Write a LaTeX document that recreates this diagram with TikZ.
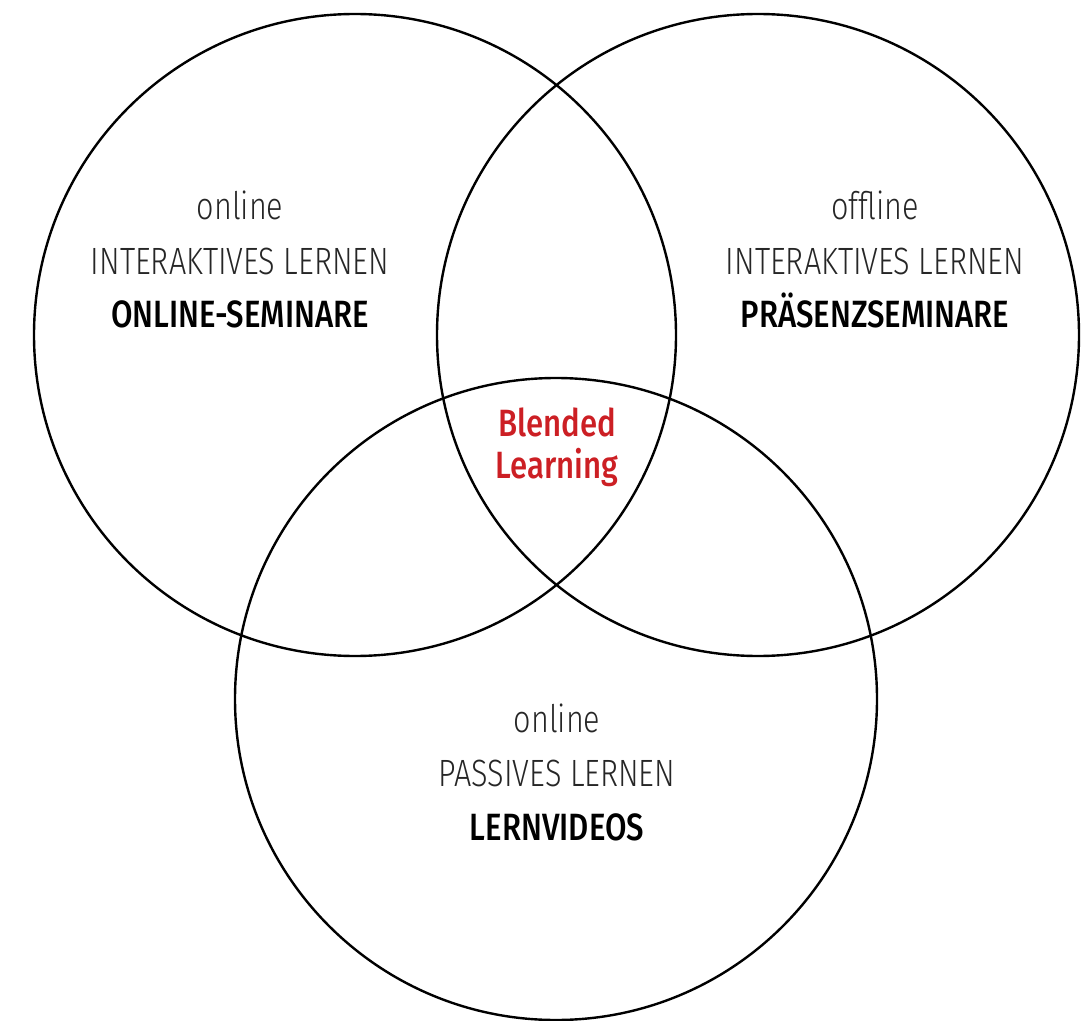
\documentclass[tikz,border=0pt]{standalone}
\usepackage{fontspec}
\setmainfont{Fira Sans}[UprightFont=* Light, BoldFont=* Medium, UprightFeatures={FakeStretch=0.805}, BoldFeatures={FakeStretch=0.82}]
\definecolor{bred}{HTML}{CC1F24}
\begin{document}
\begin{tikzpicture}[x=0.5pt,y=-0.5pt,
  venn/.style={draw=black, line width=1.2pt},
  lbl/.style={font=\fontsize{19}{22}\selectfont, text=black!85, inner sep=0pt, anchor=base},
  blbl/.style={font=\fontsize{19}{22}\selectfont\bfseries, text=black, inner sep=0pt, anchor=base},
  rlbl/.style={font=\fontsize{19}{22}\selectfont\bfseries, text=bred, inner sep=0pt, anchor=base}]
\useasboundingbox (0,0) rectangle (1081,1021);
\node[venn, circle, minimum size=642pt*0.5, inner sep=0pt] (L) at (355,335) {};
\node[venn, circle, minimum size=642pt*0.5, inner sep=0pt] (R) at (758,335) {};
\node[venn, circle, minimum size=642pt*0.5, inner sep=0pt] (B) at (556,699) {};
\node[lbl] (l1) at (240,220) {online};
\node[lbl] (l2) at (240,275) {INTERAKTIVES LERNEN};
\node[blbl] (l3) at (240,328) {ONLINE-SEMINARE};
\node[lbl] (r1) at (875,220) {offline};
\node[lbl] (r2) at (875,275) {INTERAKTIVES LERNEN};
\node[blbl] (r3) at (875,328) {PRÄSENZSEMINARE};
\node[lbl] (b1) at (557,732) {online};
\node[lbl] (b2) at (557,786) {PASSIVES LERNEN};
\node[blbl] (b3) at (557,840) {LERNVIDEOS};
\node[rlbl] (c1) at (557,437) {Blended};
\node[rlbl] (c2) at (557,478) {Learning};
\end{tikzpicture}
\end{document}
